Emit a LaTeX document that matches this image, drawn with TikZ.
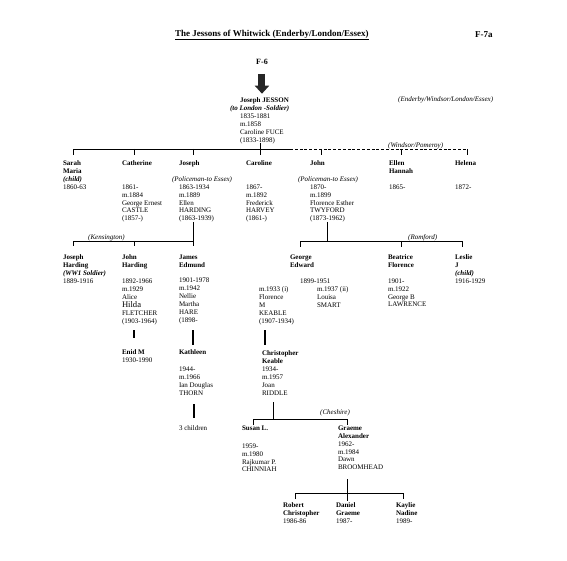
\documentclass[tikz,border=0pt]{standalone}
\usepackage{fontspec}
\setmainfont{Liberation Serif}
\usetikzlibrary{arrows.meta}
\newcommand\fsz{\fontsize{7}{7.9}\selectfont}
\newcommand\hilda{\fontsize{8.6}{7.9}\selectfont}
\begin{document}
\begin{tikzpicture}[x=1pt,y=-1pt,
 pers/.style={anchor=north west, inner sep=0pt, outer sep=0pt, align=left, font=\fsz},
 lbl/.style={anchor=base west, inner sep=0pt, font=\fsz\itshape},
 conn/.style={line width=0.8pt, black},
 dconn/.style={line width=0.8pt, black, dash pattern=on 3pt off 1.8pt},
 thickv/.style={line width=1.2pt, black},
 bigarrow/.style={line width=7pt, black!85, -{Triangle[width=14pt,length=8pt]}}
]
\useasboundingbox (0,0) rectangle (567,561);
\fill[white] (0,0) rectangle (567,561);

% heading
\node[anchor=west, inner sep=0pt, font=\fontsize{9}{10}\selectfont\bfseries] (title) at (175,35) {\underline{The Jessons of Whitwick (Enderby/London/Essex)}};
\node[anchor=west, inner sep=0pt, font=\fontsize{9}{10}\selectfont\bfseries] (f7a) at (475,35) {F-7a};
\node[anchor=west, inner sep=0pt, font=\fontsize{8}{9}\selectfont\bfseries] (f6) at (256,62) {F-6};

% Joseph JESSON
\node[pers] (jj) at (240,97.7) {\textbf{Joseph JESSON}\\\hspace*{-10pt}\textbf{\textit{(to London -Soldier)}}\\1835-1881\\m.1858\\Caroline FUCE\\(1833-1898)};
\node[lbl] (ewle) at (398,102) {(Enderby/Windsor/London/Essex)};
\draw[bigarrow] ([yshift=-9pt]f6.south) -- ([yshift=4pt]jj.north -| f6.south);

% generation 2
\node[pers] (sarah) at (63,160.7) {\textbf{Sarah}\\\textbf{Maria}\\\textbf{\textit{(child)}}\\1860-63};
\node[pers] (catherine) at (122,160.7) {\textbf{Catherine}\\[15.8pt]1861-\\m.1884\\George Ernest\\CASTLE\\(1857-)};
\node[pers] (joseph) at (179,160.7) {\textbf{Joseph}\\[7.9pt]\hspace*{-7pt}\textit{(Policeman-to Essex)}\\1863-1934\\m.1889\\Ellen\\HARDING\\(1863-1939)};
\node[pers] (caroline) at (246,160.7) {\textbf{Caroline}\\[15.8pt]1867-\\m.1892\\Frederick\\HARVEY\\(1861-)};
\node[pers] (john) at (310,160.7) {\textbf{John}\\[7.9pt]\hspace*{-12pt}\textit{(Policeman-to Essex)}\\1870-\\m.1899\\Florence Esther\\TWYFORD\\(1873-1962)};
\node[pers] (ellen) at (389,160.7) {\textbf{Ellen}\\\textbf{Hannah}\\[7.9pt]1865-};
\node[pers] (helena) at (455,160.7) {\textbf{Helena}\\[15.8pt]1872-};

\coordinate (jjdown) at (260,143);
\coordinate (b1L) at (73,149);
\coordinate (b1M) at (290,149);
\coordinate (b1R) at (467,149);
\coordinate (tCath) at (134,149);
\coordinate (tJos) at (193,149);
\coordinate (tJohn) at (321,149);
\coordinate (tEllen) at (401,149);
\draw[conn] ([yshift=-6pt]b1L) -- (b1L) -- (b1M);
\draw[dconn] (b1M) -- (b1R);
\draw[conn] (b1R) -- ([yshift=-6pt]b1R);
\draw[conn] (jjdown) -- ([yshift=-12pt]jjdown);
\foreach \t in {tCath,tJos,tJohn,tEllen} \draw[conn] (\t) -- ([yshift=-6pt]\t);
\node[lbl] (windsor) at (388,147.3) {(Windsor/Pomeroy)};

% generation 3 (Joseph's family)
\node[pers] (josephH) at (63,254.7) {\textbf{Joseph}\\\textbf{Harding}\\\textbf{\textit{(WW1 Soldier)}}\\1889-1916};
\node[pers] (johnH) at (122,254.7) {\textbf{John}\\\textbf{Harding}\\[7.9pt]1892-1966\\m.1929\\Alice\\[0.6pt]{\hilda Hilda}\\FLETCHER\\(1903-1964)};
\node[pers] (james) at (179,254.7) {\textbf{James}\\\textbf{Edmund}\\[7.9pt]1901-1978\\m.1942\\Nellie\\Martha\\HARE\\(1898-};
\node[pers] (enid) at (122,349.7) {\textbf{Enid M}\\1930-1990};
\node[pers] (kathleen) at (179,349.7) {\textbf{Kathleen}\\[9pt]1944-\\m.1966\\Ian Douglas\\THORN};
\node[pers] (three) at (179,425.7) {3 children};

\coordinate (josD) at (193,222);
\coordinate (b2L) at (73,241);
\coordinate (b2R) at (193,241);
\coordinate (tJohnH) at (134,241);
\draw[conn] (josD) -- ([yshift=-24pt]josD);
\draw[conn] ([yshift=-5pt]b2L) -- (b2L) -- (b2R);
\draw[conn] (tJohnH) -- ([yshift=-5pt]tJohnH);
\node[lbl] (kens) at (88,239.6) {(Kensington)};

\coordinate (enidU) at (134,330);
\coordinate (kathU) at (193,330);
\coordinate (threeU) at (194,404);
\draw[thickv] (enidU) -- ([yshift=-8pt]enidU);
\draw[thickv] (kathU) -- ([yshift=-15pt]kathU);
\draw[thickv] (threeU) -- ([yshift=-14pt]threeU);

% generation 3 (John's family)
\node[pers] (george) at (290,254.7) {\textbf{George}\\\textbf{Edward}\\[7.9pt]\hspace*{10pt}1899-1951};
\node[pers] (m1933) at (259,286.7) {m.1933 (i)\\Florence\\M\\KEABLE\\(1907-1934)};
\node[pers] (m1937) at (317,286.7) {m.1937 (ii)\\Louisa\\SMART};
\node[pers] (beatrice) at (388,254.7) {\textbf{Beatrice}\\\textbf{Florence}\\[7.9pt]1901-\\m.1922\\George B\\LAWRENCE};
\node[pers] (leslie) at (455,254.7) {\textbf{Leslie}\\\textbf{J}\\\textbf{\textit{(child)}}\\1916-1929};

\coordinate (johnD) at (327,222);
\coordinate (b3L) at (300,241);
\coordinate (b3R) at (462,241);
\coordinate (tBea) at (401,241);
\draw[conn] (johnD) -- ([yshift=-19pt]johnD);
\draw[conn] ([yshift=-6pt]b3L) -- (b3L) -- (b3R) -- ([yshift=-6pt]b3R);
\draw[conn] (tBea) -- ([yshift=-6pt]tBea);
\node[lbl] (romford) at (408,239.5) {(Romford)};

\coordinate (chrisU) at (265,330);
\draw[thickv] (chrisU) -- ([yshift=-15pt]chrisU);
\node[pers] (chris) at (262,350.7) {\textbf{Christopher}\\\textbf{Keable}\\1934-\\m.1957\\Joan\\RIDDLE};

% generation 4
\node[pers] (susan) at (242,425.7) {\textbf{Susan L.}\\[10pt]1959-\\m.1980\\Rajkumar P.\\CHINNIAH};
\node[pers] (graeme) at (338,425.7) {\textbf{Graeme}\\\textbf{Alexander}\\1962-\\m.1984\\Dawn\\BROOMHEAD};
\coordinate (chrisD) at (273,402);
\coordinate (b4L) at (253,419);
\coordinate (b4R) at (347,419);
\draw[conn] (chrisD) -- ([yshift=-17pt]chrisD);
\draw[conn] ([yshift=-6pt]b4L) -- (b4L) -- (b4R) -- ([yshift=-6pt]b4R);
\node[lbl] (cheshire) at (320,414.5) {(Cheshire)};

% generation 5
\node[pers] (robert) at (283,502.7) {\textbf{Robert}\\\textbf{Christopher}\\1986-86};
\node[pers] (daniel) at (336,502.7) {\textbf{Daniel}\\\textbf{Graeme}\\1987-};
\node[pers] (kaylie) at (396,502.7) {\textbf{Kaylie}\\\textbf{Nadine}\\1989-};
\coordinate (graemeD) at (347,479);
\coordinate (b5L) at (295,493);
\coordinate (b5R) at (403,493);
\draw[conn] (graemeD) -- ([yshift=-22pt]graemeD);
\draw[conn] ([yshift=-6pt]b5L) -- (b5L) -- (b5R) -- ([yshift=-6pt]b5R);
\end{tikzpicture}
\end{document}
